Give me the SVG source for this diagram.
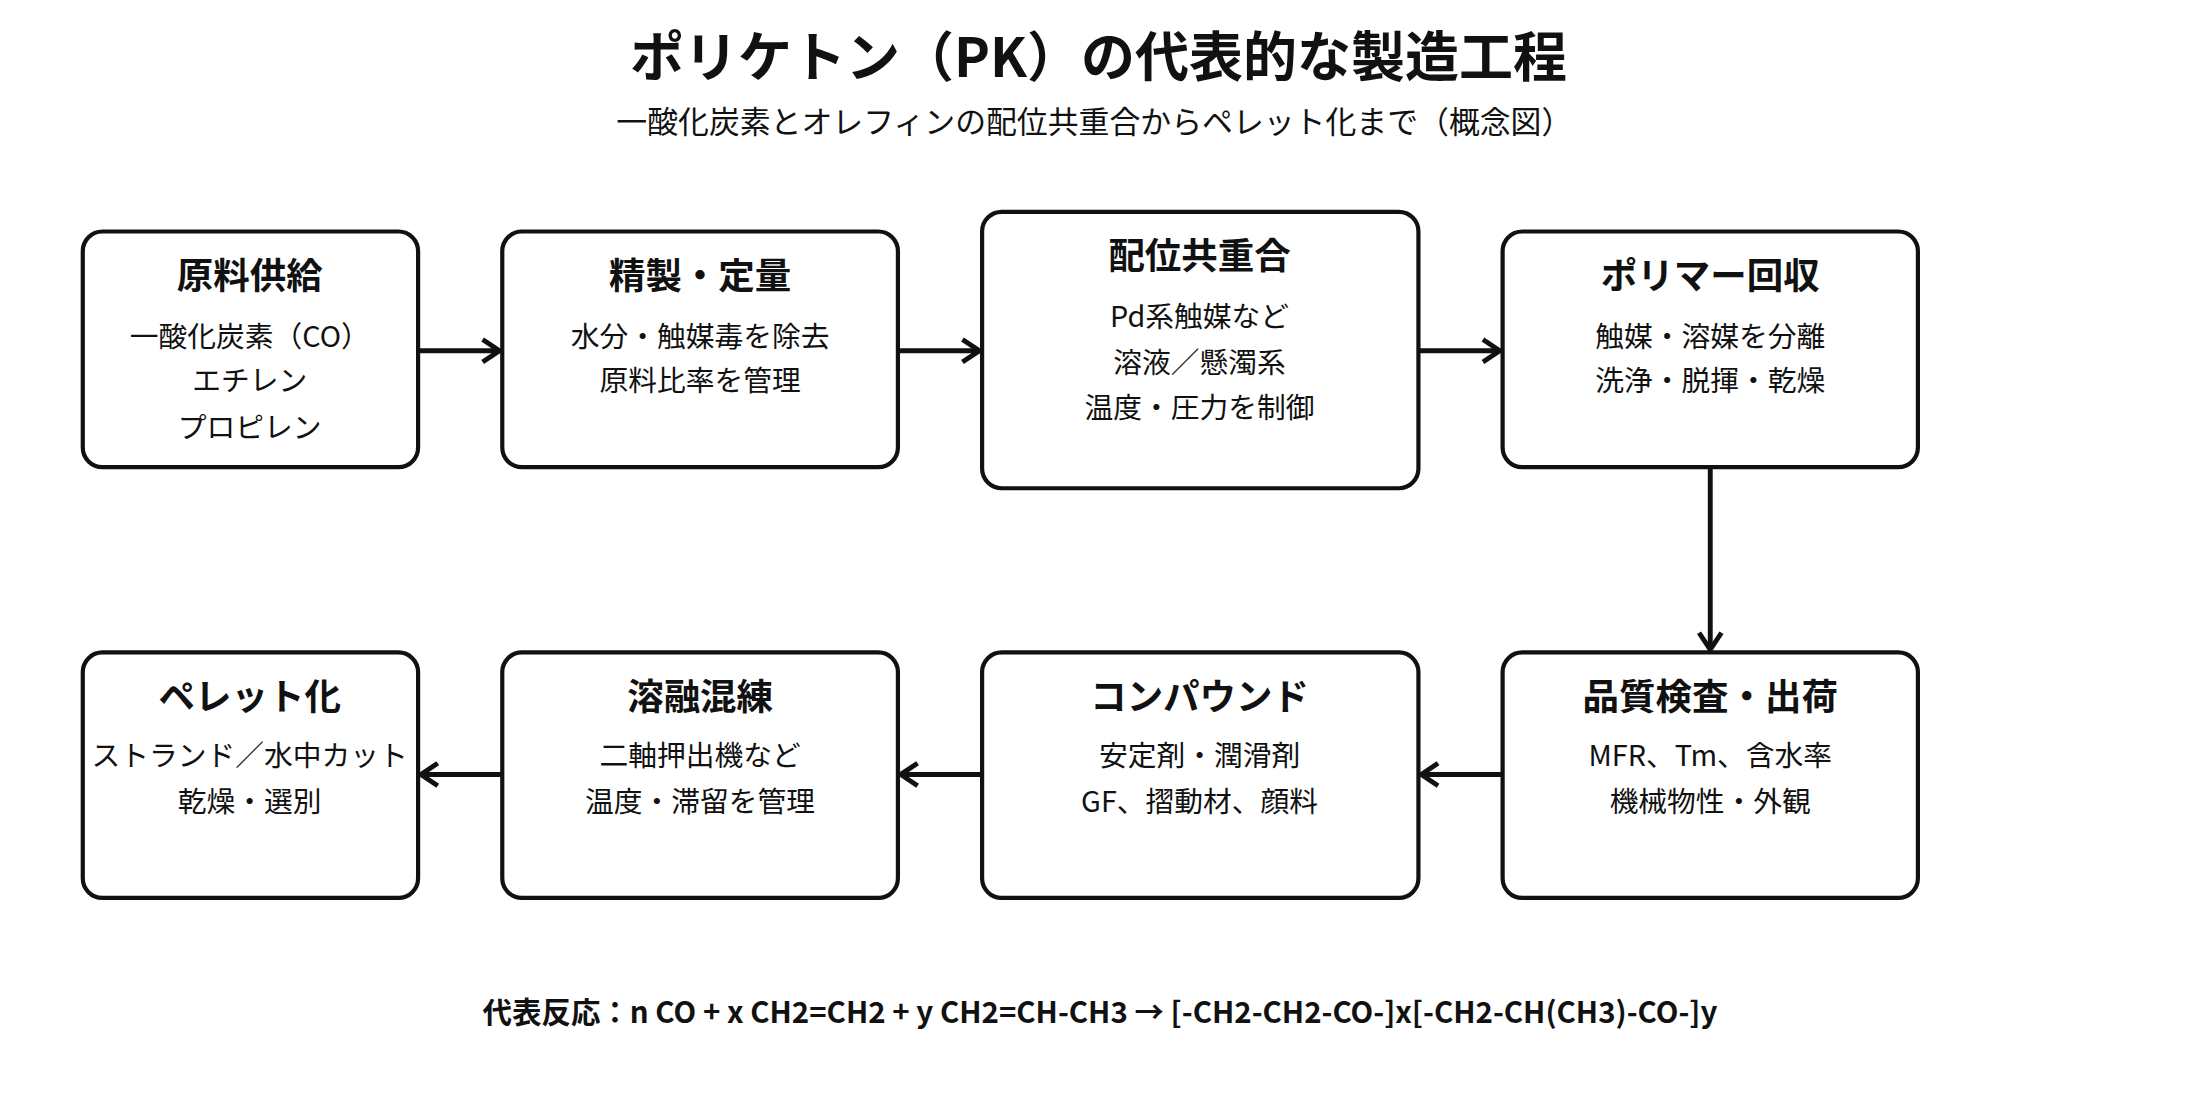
<svg xmlns="http://www.w3.org/2000/svg" width="2200" height="1100" viewBox="0 0 2200 1100">
<style>
text{font-family:"Noto Sans CJK JP","Noto Sans",sans-serif;fill:#111;text-anchor:middle}
.b{fill:#fff;stroke:#111;stroke-width:3}
.t{font-size:26px;font-weight:bold}
.l{font-size:20.5px}
.c{stroke:#111;stroke-width:3.5;fill:none;marker-end:url(#a)}
</style>
<defs><marker id="a" viewBox="0 0 16 20" refX="14" refY="10" markerWidth="16" markerHeight="20" markerUnits="userSpaceOnUse" orient="auto"><path d="M2,2 L14,10 L2,18" fill="none" stroke="#111" stroke-width="3.5"/></marker></defs>
<rect width="2200" height="1100" fill="#fff"/>
<g transform="scale(1.403)">
<text x="783" y="55" style="font-size:38.5px;font-weight:bold">ポリケトン（PK）の代表的な製造工程</text>
<text x="780" y="95" style="font-size:22px">一酸化炭素とオレフィンの配位共重合からペレット化まで（概念図）</text>
<g id="n1"><rect class="b" x="59" y="165" width="239" height="168" rx="14"/><text class="t" x="178" y="206">原料供給</text><text class="l" x="178" y="247">一酸化炭素（CO）</text><text class="l" x="178" y="279">エチレン</text><text class="l" x="178" y="312">プロピレン</text></g>
<g id="n2"><rect class="b" x="358" y="165" width="282" height="168" rx="14"/><text class="t" x="499" y="206">精製・定量</text><text class="l" x="499" y="247">水分・触媒毒を除去</text><text class="l" x="499" y="279">原料比率を管理</text></g>
<g id="n3"><rect class="b" x="700" y="151" width="311" height="197" rx="14"/><text class="t" x="855" y="192">配位共重合</text><text class="l" x="855" y="233">Pd系触媒など</text><text class="l" x="855" y="266">溶液／懸濁系</text><text class="l" x="855" y="298">温度・圧力を制御</text></g>
<g id="n4"><rect class="b" x="1071" y="165" width="296" height="168" rx="14"/><text class="t" x="1219" y="206">ポリマー回収</text><text class="l" x="1219" y="247">触媒・溶媒を分離</text><text class="l" x="1219" y="279">洗浄・脱揮・乾燥</text></g>
<g id="n5"><rect class="b" x="1071" y="465" width="296" height="175" rx="14"/><text class="t" x="1219" y="506">品質検査・出荷</text><text class="l" x="1219" y="546">MFR、Tm、含水率</text><text class="l" x="1219" y="579">機械物性・外観</text></g>
<g id="n6"><rect class="b" x="700" y="465" width="311" height="175" rx="14"/><text class="t" x="855" y="506">コンパウンド</text><text class="l" x="855" y="546">安定剤・潤滑剤</text><text class="l" x="855" y="579">GF、摺動材、顔料</text></g>
<g id="n7"><rect class="b" x="358" y="465" width="282" height="175" rx="14"/><text class="t" x="499" y="506">溶融混練</text><text class="l" x="499" y="546">二軸押出機など</text><text class="l" x="499" y="579">温度・滞留を管理</text></g>
<g id="n8"><rect class="b" x="59" y="465" width="239" height="175" rx="14"/><text class="t" x="178" y="506">ペレット化</text><text class="l" x="178" y="546">ストランド／水中カット</text><text class="l" x="178" y="579">乾燥・選別</text></g>
<g id="connectors">
<path class="c" d="M298,250 H356"/>
<path class="c" d="M640,250 H698"/>
<path class="c" d="M1011,250 H1069"/>
<path class="c" d="M1219,333 V463"/>
<path class="c" d="M1071,552 H1013"/>
<path class="c" d="M700,552 H642"/>
<path class="c" d="M358,552 H300"/>
</g>
<text x="784" y="729" style="font-size:21px;font-weight:bold">代表反応：n CO + x CH2=CH2 + y CH2=CH-CH3 → [-CH2-CH2-CO-]x[-CH2-CH(CH3)-CO-]y</text>
</g>
</svg>
